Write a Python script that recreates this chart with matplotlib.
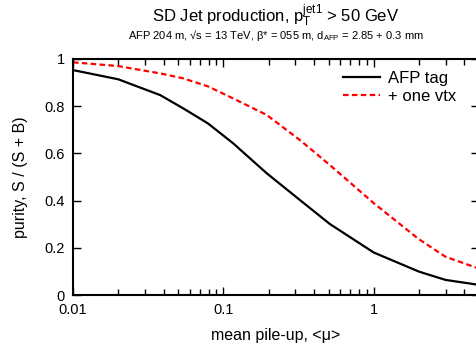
import matplotlib
matplotlib.use("Agg")
import matplotlib.pyplot as plt
from matplotlib.ticker import FixedLocator, LogLocator, NullFormatter

plt.rcParams['font.family'] = ['Liberation Sans', 'DejaVu Sans']
plt.rcParams['mathtext.fontset'] = 'custom'
plt.rcParams['mathtext.rm'] = 'Liberation Sans'
plt.rcParams['mathtext.it'] = 'Liberation Sans'

# mean pile-up values and purity
mu = [0.01, 0.02, 0.038, 0.054, 0.079, 0.116, 0.194, 0.322, 0.51, 1.0, 2.0, 3.0, 5.0]
afp_tag = [0.953, 0.914, 0.847, 0.791, 0.727, 0.643, 0.516, 0.403, 0.301, 0.18, 0.099, 0.064, 0.043]
one_vtx = [0.986, 0.970, 0.939, 0.918, 0.884, 0.833, 0.763, 0.657, 0.551, 0.389, 0.236, 0.162, 0.112]

fig = plt.figure(figsize=(4.77, 3.44), dpi=100)
ax = fig.add_axes([0.153, 0.1424, 0.851, 0.6861])

ax.plot(mu, afp_tag, color='black', lw=1.6, label='AFP tag')
ax.plot(mu, one_vtx, color='red', lw=1.6, ls=(0, (2.5, 1.5)), label='+ one vtx')

ax.set_xscale('log')
ax.set_xlim(0.01, 5)
ax.set_ylim(0, 1)
ax.xaxis.set_major_locator(FixedLocator([0.01, 0.1, 1]))
ax.set_xticklabels(['0.01', '0.1', '1'])
ax.xaxis.set_minor_locator(LogLocator(base=10, subs=range(2, 10)))
ax.xaxis.set_minor_formatter(NullFormatter())
ax.set_yticks([0, 0.2, 0.4, 0.6, 0.8, 1])
ax.set_yticklabels(['0', '0.2', '0.4', '0.6', '0.8', '1'])

ax.tick_params(which='both', direction='in', top=True, right=True, labelsize=10.5, pad=6)
ax.tick_params(which='major', length=6, width=1)
ax.tick_params(which='minor', length=4, width=1)
for s in ax.spines.values():
    s.set_linewidth(1.5)

ax.set_xlabel('mean pile-up, <μ>', fontsize=11.5, labelpad=8)
ax.set_ylabel('purity, S / (S + B)', fontsize=11.5, labelpad=12)

fig.text(0.578, 0.937, r'SD Jet production, p$_\mathrm{T}^\mathrm{jet1}$ > 50 GeV',
         ha='center', va='baseline', fontsize=12)
fig.text(0.578, 0.886, r'AFP 204 m, √s = 13 TeV, β* = 055 m, d$_\mathrm{AFP}$ = 2.85 + 0.3 mm',
         ha='center', va='baseline', fontsize=8)

ax.legend(loc='upper left', bbox_to_anchor=(0.665, 0.95), frameon=False, fontsize=12,
          borderpad=0, borderaxespad=0,
          handlelength=2.2, handletextpad=0.5, labelspacing=0.2)

fig.savefig('out.png', dpi=100)
